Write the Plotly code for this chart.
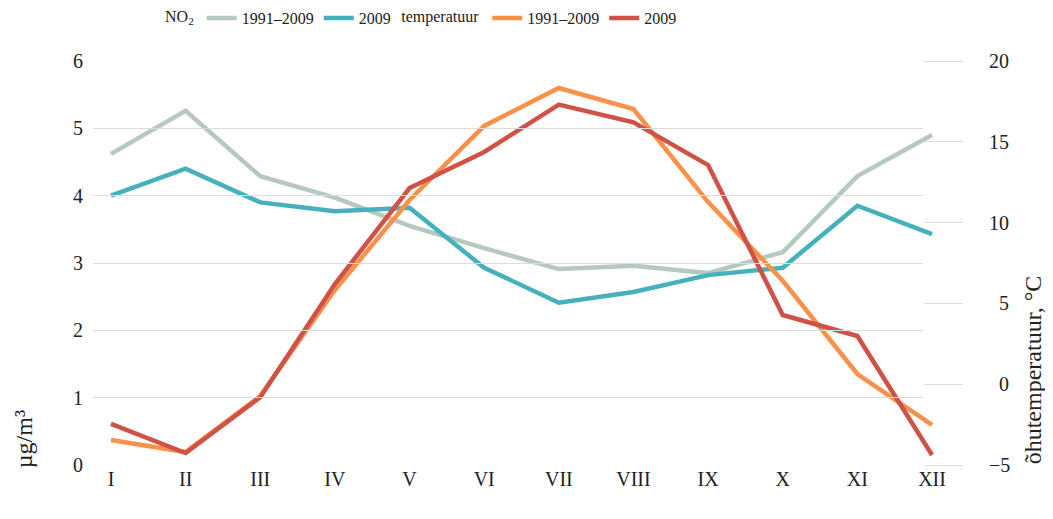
import plotly.graph_objects as go

months = ["I", "II", "III", "IV", "V", "VI", "VII", "VIII", "IX", "X", "XI", "XII"]
no2_avg = [4.62, 5.26, 4.29, 3.97, 3.55, 3.22, 2.91, 2.96, 2.85, 3.16, 4.29, 4.90]
no2_2009 = [4.00, 4.40, 3.90, 3.77, 3.82, 2.93, 2.41, 2.57, 2.82, 2.93, 3.85, 3.43]
temp_avg = [-3.45, -4.2, -0.73, 5.83, 11.4, 15.98, 18.33, 17.03, 11.27, 6.4, 0.63, -2.52]
temp_2009 = [-2.46, -4.26, -0.8, 6.2, 12.14, 14.37, 17.3, 16.2, 13.56, 4.28, 2.98, -4.38]
left_ticks = [0, 1, 2, 3, 4, 5, 6]
right_ticks = [-5, 0, 5, 10, 15, 20]
right_ticktext = ["\u22125", "\u20070", "\u20075", "10", "15", "20"]

C_GRAY = "#b6c9c1"
C_TEAL = "#46b1bd"
C_ORANGE = "#fa914a"
C_RED = "#cf5246"
GRID = "#dcdcdc"
FONT = "Liberation Serif"
TICK_SIZE = 20
LEG_SIZE = 16
TITLE_SIZE = 24

x_idx = list(range(len(months)))

fig = go.Figure()
# dummy subplot providing the left-axis gridlines (stop short of right axis ticks)
fig.add_trace(go.Scatter(x=[], y=[], xaxis="x2", yaxis="y3", showlegend=False, hoverinfo="skip"))

fig.add_trace(go.Scatter(x=x_idx, y=no2_avg, mode="lines", name="1991\u20132009",
                         line=dict(color=C_GRAY, width=4.5), legend="legend"))
fig.add_trace(go.Scatter(x=x_idx, y=no2_2009, mode="lines", name="2009",
                         line=dict(color=C_TEAL, width=4.5), legend="legend"))
fig.add_trace(go.Scatter(x=x_idx, y=temp_avg, mode="lines", name="1991\u20132009",
                         line=dict(color=C_ORANGE, width=4.5), yaxis="y2", legend="legend2"))
fig.add_trace(go.Scatter(x=x_idx, y=temp_2009, mode="lines", name="2009",
                         line=dict(color=C_RED, width=4.5), yaxis="y2", legend="legend2"))

fig.update_layout(
    width=1045, height=511,
    margin=dict(l=85, r=90, t=53, b=54, autoexpand=False),
    paper_bgcolor="white", plot_bgcolor="rgba(0,0,0,0)",
    font=dict(family=FONT, size=TICK_SIZE, color="#222"),
    xaxis=dict(range=[-0.241, 11.415], tickvals=x_idx, ticktext=months,
               showgrid=False, zeroline=False, showline=False, ticks="",
               tickfont=dict(size=TICK_SIZE), domain=[0, 1], anchor="y"),
    yaxis=dict(range=[0, 6], tickvals=left_ticks, showgrid=False, zeroline=False,
               ticks="outside", ticklen=5, tickcolor="rgba(0,0,0,0)",
               tickfont=dict(size=TICK_SIZE), anchor="x"),
    yaxis2=dict(range=[-5, 20], tickvals=right_ticks, ticktext=right_ticktext,
                overlaying="y", side="right", anchor="free", position=0.954,
                showgrid=False, zeroline=False, showline=False,
                ticks="outside", ticklen=39, tickcolor=GRID, tickwidth=1,
                ticklabelstandoff=22, tickfont=dict(size=TICK_SIZE)),
    xaxis2=dict(domain=[0, 0.954], range=[0, 1], visible=False, anchor="y3"),
    yaxis3=dict(range=[0, 6], tickvals=left_ticks, anchor="x2", showgrid=True,
                gridcolor=GRID, gridwidth=1, zeroline=False, showticklabels=False,
                ticks="", showline=False, domain=[0, 1]),
    legend=dict(orientation="h", x=0.0805, xanchor="left", y=1.106, yanchor="middle",
                title=dict(text="NO<sub>2</sub>", side="left", font=dict(size=LEG_SIZE)),
                font=dict(size=LEG_SIZE), bgcolor="rgba(0,0,0,0)", itemwidth=30,
                tracegroupgap=0),
    legend2=dict(orientation="h", x=0.352, xanchor="left", y=1.106, yanchor="middle",
                 title=dict(text="temperatuur", side="left", font=dict(size=LEG_SIZE)),
                 font=dict(size=LEG_SIZE), bgcolor="rgba(0,0,0,0)", itemwidth=30,
                 tracegroupgap=0),
    annotations=[
        dict(text="\u00b5g/m\u00b3", textangle=-90, xref="paper", yref="paper",
             x=-0.080, y=-0.012, xanchor="center", yanchor="bottom",
             showarrow=False, font=dict(size=TITLE_SIZE)),
        dict(text="\u00f5hutemperatuur, \u00b0C", textangle=-90, xref="paper", yref="paper",
             x=1.080, y=-0.003, xanchor="center", yanchor="bottom",
             showarrow=False, font=dict(size=TITLE_SIZE)),
    ],
)

fig.write_html("out.html")
